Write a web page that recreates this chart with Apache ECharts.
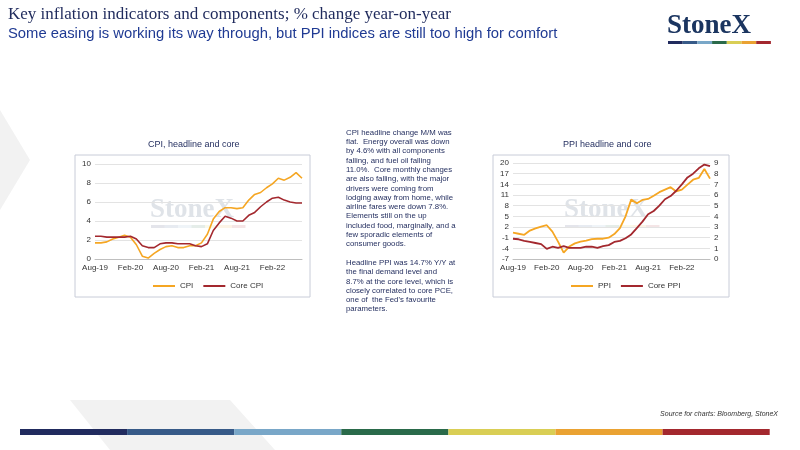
<!DOCTYPE html>
<html>
<head>
<meta charset="utf-8">
<script src="https://cdn.jsdelivr.net/npm/echarts@6/dist/echarts.min.js"></script>
<style>
html,body{margin:0;padding:0;background:#fff;}
#main{width:800px;height:450px;}
</style>
</head>
<body>
<div id="main"></div>
<script>
var months = ['Aug-19','Sep-19','Oct-19','Nov-19','Dec-19','Jan-20','Feb-20','Mar-20','Apr-20','May-20','Jun-20','Jul-20',
	'Aug-20','Sep-20','Oct-20','Nov-20','Dec-20','Jan-21','Feb-21','Mar-21','Apr-21','May-21','Jun-21','Jul-21',
	'Aug-21','Sep-21','Oct-21','Nov-21','Dec-21','Jan-22','Feb-22','Mar-22','Apr-22','May-22','Jun-22','Jul-22'];
var cpi = [1.7,1.7,1.8,2.1,2.3,2.5,2.3,1.5,0.3,0.1,0.6,1.0,1.3,1.4,1.2,1.2,1.4,1.4,1.7,2.6,4.2,5.0,5.4,5.4,5.3,5.4,6.2,6.8,7.0,7.5,7.9,8.5,8.3,8.6,9.1,8.5];
var coreCpi = [2.4,2.4,2.3,2.3,2.3,2.3,2.4,2.1,1.4,1.2,1.2,1.6,1.7,1.7,1.6,1.6,1.6,1.4,1.3,1.6,3.0,3.8,4.5,4.3,4.0,4.0,4.6,4.9,5.5,6.0,6.4,6.5,6.2,6.0,5.9,5.9];
var ppi = [0.4,0.1,-0.2,1.0,1.6,2.1,2.5,0.7,-2.1,-5.2,-3.5,-2.6,-2.1,-1.8,-1.4,-1.3,-1.3,-1.0,0.0,1.7,5.0,9.7,8.7,9.6,9.9,10.8,11.8,12.5,13.2,12.0,12.5,13.9,15.3,15.8,18.3,15.6];
var corePpi = [1.9,1.85,1.7,1.6,1.5,1.4,0.95,1.15,1.05,1.2,1.05,1.05,1.05,1.15,1.15,1.05,1.2,1.3,1.6,1.7,1.95,2.3,2.9,3.5,4.2,4.5,5.0,5.6,5.9,6.4,7.0,7.65,8.0,8.5,8.85,8.7];

var NAVY = '#1F2A5C';
var ORANGE = '#F5A623';
var RED = '#A3282E';
var barColors = ['#212B5E','#375A88','#79A7C8','#2A6A4A','#D9CE55','#EAA232','#A3282E'];

var chart = echarts.init(document.getElementById('main'));

var graphics = [
	{type:'polygon', silent:true, shape:{points:[[0,110],[30,160],[0,210]]}, style:{fill:'#F2F2F2'}},
	{type:'polygon', silent:true, shape:{points:[[70,400],[230,400],[275,450],[110,450]]}, style:{fill:'#F2F2F2'}},
	{type:'text', left:8, top:6, style:{text:'Key inflation indicators and components; % change year-on-year', font:'17px "Liberation Serif"', fill:NAVY}},
	{type:'text', left:8, top:26, style:{text:'Some easing is working its way through, but PPI indices are still too high for comfort', font:'14.8px "Liberation Sans"', fill:'#1F3A93'}},
	{type:'text', left:667, top:13, style:{text:'StoneX', font:'bold 27px "Liberation Serif"', fill:'#1B3560'}},
	{type:'rect', shape:{x:75, y:155, width:235, height:142}, style:{fill:'none', stroke:'#C8CCD8', lineWidth:1}},
	{type:'rect', shape:{x:493, y:155, width:236, height:142}, style:{fill:'none', stroke:'#C8CCD8', lineWidth:1}},
	{type:'text', left:148, top:140, style:{text:'CPI, headline and core', font:'9px "Liberation Sans"', fill:NAVY}},
	{type:'text', left:563, top:140, style:{text:'PPI headline and core', font:'9px "Liberation Sans"', fill:NAVY}},
	{type:'text', left:150, top:197, z:0, style:{text:'StoneX', font:'bold 27px "Liberation Serif"', fill:'rgba(185,192,205,0.45)'}},
	{type:'text', left:564, top:197, z:0, style:{text:'StoneX', font:'bold 27px "Liberation Serif"', fill:'rgba(185,192,205,0.45)'}},
	{type:'text', left:346, top:128, style:{
		text:'CPI headline change M/M was\nflat.  Energy overall was down\nby 4.6% with all components\nfalling, and fuel oil falling\n11.0%.  Core monthly changes\nare also falling, with the major\ndrivers were coming from\nlodging away from home, while\nairline fares were down 7.8%.\nElements still on the up\nincluded food, marginally, and a\nfew sporadic elements of\nconsumer goods.\n\nHeadline PPI was 14.7% Y/Y at\nthe final demand level and\n8.7% at the core level, which is\nclosely correlated to core PCE,\none of  the Fed\'s favourite\nparameters.',
		font:'7.8px "Liberation Sans"', lineHeight:9.3, fill:NAVY}},
	{type:'text', right:22, top:411, style:{text:'Source for charts: Bloomberg, StoneX', font:'italic 7px "Liberation Sans"', fill:'#333'}}
];
barColors.forEach(function(c, i){
	graphics.push({type:'rect', shape:{x:20 + i*107.1, y:429, width:107.1, height:6}, style:{fill:c}});
	graphics.push({type:'rect', shape:{x:668 + i*14.7, y:41, width:14.7, height:3}, style:{fill:c}});
	graphics.push({type:'rect', z:0, shape:{x:151 + i*13.5, y:225, width:13.5, height:3}, style:{fill:c, opacity:0.12}});
	graphics.push({type:'rect', z:0, shape:{x:565 + i*13.5, y:225, width:13.5, height:3}, style:{fill:c, opacity:0.12}});
});

function xAx(gi){
	return {type:'category', gridIndex:gi, data:months, boundaryGap:false,
		axisTick:{show:false}, axisLine:{onZero:false, lineStyle:{color:'#BFBFBF'}},
		axisLabel:{interval:5, color:'#333', fontSize:8, margin:5, fontFamily:'Liberation Sans'}};
}
function yAx(gi, min, max, step, pos){
	return {type:'value', gridIndex:gi, min:min, max:max, interval:step, position:pos || 'left',
		axisLabel:{color:'#333', fontSize:8, margin:4, fontFamily:'Liberation Sans'},
		splitLine:{show:pos !== 'right', lineStyle:{color:'#E3E3E3'}},
		axisLine:{show:false}, axisTick:{show:false}};
}

var option = {
	animation:false,
	graphic:graphics,
	grid:[
		{left:95, top:164, width:207, height:95},
		{left:513, top:163, width:197, height:96}
	],
	legend:[
		{data:['CPI','Core CPI'], left:148, top:277, itemWidth:22, itemHeight:2, icon:'rect', itemGap:10,
			textStyle:{fontSize:8, color:'#333', fontFamily:'Liberation Sans'}},
		{data:['PPI','Core PPI'], left:566, top:277, itemWidth:22, itemHeight:2, icon:'rect', itemGap:10,
			textStyle:{fontSize:8, color:'#333', fontFamily:'Liberation Sans'}}
	],
	xAxis:[xAx(0), xAx(1)],
	yAxis:[yAx(0,0,10,2), yAx(1,-7,20,3), yAx(1,0,9,1,'right')],
	series:[
		{name:'CPI', type:'line', xAxisIndex:0, yAxisIndex:0, data:cpi, symbol:'none', lineStyle:{color:ORANGE, width:1.6}, itemStyle:{color:ORANGE}},
		{name:'Core CPI', type:'line', xAxisIndex:0, yAxisIndex:0, data:coreCpi, symbol:'none', lineStyle:{color:RED, width:1.6}, itemStyle:{color:RED}},
		{name:'PPI', type:'line', xAxisIndex:1, yAxisIndex:1, data:ppi, symbol:'none', lineStyle:{color:ORANGE, width:1.8}, itemStyle:{color:ORANGE}},
		{name:'Core PPI', type:'line', xAxisIndex:1, yAxisIndex:2, data:corePpi, symbol:'none', lineStyle:{color:RED, width:1.8}, itemStyle:{color:RED}}
	]
};
chart.setOption(option);
</script>
</body>
</html>
